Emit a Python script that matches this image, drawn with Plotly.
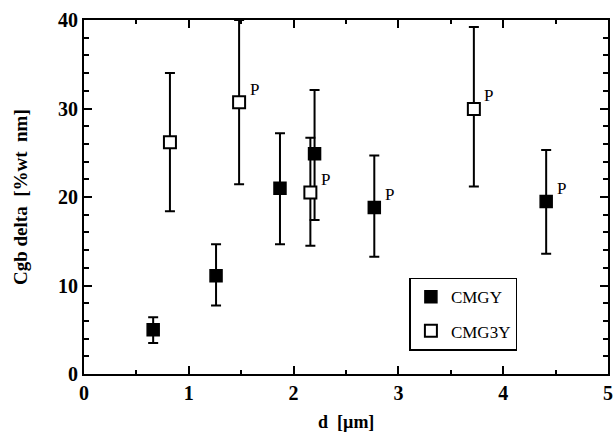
import plotly.graph_objects as go

# CMGY (filled squares)
cmgy_d = [0.66, 1.26, 1.87, 2.20, 2.77, 4.41]
cmgy_v = [5.0, 11.1, 21.0, 24.9, 18.8, 19.5]
cmgy_up = [6.4, 14.65, 27.2, 32.1, 24.7, 25.3]
cmgy_lo = [3.5, 7.75, 14.65, 17.4, 13.25, 13.6]

# CMG3Y (open squares)
cmg3y_d = [0.82, 1.48, 2.16, 3.72]
cmg3y_v = [26.2, 30.7, 20.5, 29.95]
cmg3y_up = [34.0, 40.0, 26.7, 39.2]
cmg3y_lo = [18.4, 21.45, 14.5, 21.2]

# points labelled "P"
p_d = [1.48, 2.16, 3.72, 2.77, 4.41]
p_v = [30.7, 20.5, 29.95, 18.8, 19.5]

x_ticks = [0, 1, 2, 3, 4, 5]
y_ticks = [0, 10, 20, 30, 40]

SERIF = "Liberation Serif"

fig = go.Figure()

fig.add_trace(go.Scatter(
    x=cmgy_d, y=cmgy_v, mode="markers", name="CMGY", legendgroup="a",
    marker=dict(symbol="square", size=12, color="black", line=dict(color="black", width=1.5)),
    error_y=dict(type="data", symmetric=False,
                 array=[u - v for u, v in zip(cmgy_up, cmgy_v)],
                 arrayminus=[v - l for v, l in zip(cmgy_v, cmgy_lo)],
                 color="black", thickness=2, width=5),
))
fig.add_trace(go.Scatter(
    x=cmg3y_d, y=cmg3y_v, mode="markers", name="CMG3Y", legendgroup="b",
    marker=dict(symbol="square", size=12, color="white", line=dict(color="black", width=2)),
    error_y=dict(type="data", symmetric=False,
                 array=[u - v for u, v in zip(cmg3y_up, cmg3y_v)],
                 arrayminus=[v - l for v, l in zip(cmg3y_v, cmg3y_lo)],
                 color="black", thickness=2, width=5),
))

annotations = []
for xd, yv in zip(p_d, p_v):
    annotations.append(dict(x=xd, y=yv, xref="x", yref="y", text="P", showarrow=False,
                            xshift=15, yshift=13,
                            font=dict(family=SERIF, size=17, color="black")))

annotations.append(dict(x=0.5, y=0, xref="paper", yref="paper", text="d  [µm]",
                        showarrow=False, yshift=-48, yanchor="middle",
                        font=dict(family=SERIF, size=18, color="black", weight="bold")))
annotations.append(dict(x=0, y=0.5, xref="paper", yref="paper", text="Cgb delta  [%wt  nm]",
                        showarrow=False, xshift=-64, xanchor="center", textangle=-90,
                        font=dict(family=SERIF, size=19, color="black", weight="bold")))

axis_common = dict(
    showgrid=False, zeroline=False, showline=True, linecolor="black", linewidth=2,
    mirror="ticks", ticks="inside", ticklen=8, tickwidth=1.5, tickcolor="black",
    tickfont=dict(family=SERIF, size=20, color="black", weight="bold"),
)

fig.update_layout(
    width=616, height=436,
    margin=dict(l=84, r=3, t=20, b=62),
    paper_bgcolor="white", plot_bgcolor="white",
    showlegend=True,
    legend=dict(x=0.621, y=0.272, xanchor="left", yanchor="top",
                bordercolor="black", borderwidth=1.5, bgcolor="white",
                tracegroupgap=9,
                font=dict(family=SERIF, size=17, color="black")),
    xaxis=dict(range=[0, 5], tickvals=x_ticks, ticktext=[str(t) for t in x_ticks],
               minor=dict(dtick=0.5, ticks="inside", ticklen=4, tickwidth=1.5, tickcolor="black"),
               **axis_common),
    yaxis=dict(range=[0, 40], tickvals=y_ticks, ticktext=[str(t) for t in y_ticks],
               minor=dict(dtick=2, ticks="inside", ticklen=5, tickwidth=1.5, tickcolor="black"),
               **axis_common),
    annotations=annotations,
)

fig.write_html("out.html")
